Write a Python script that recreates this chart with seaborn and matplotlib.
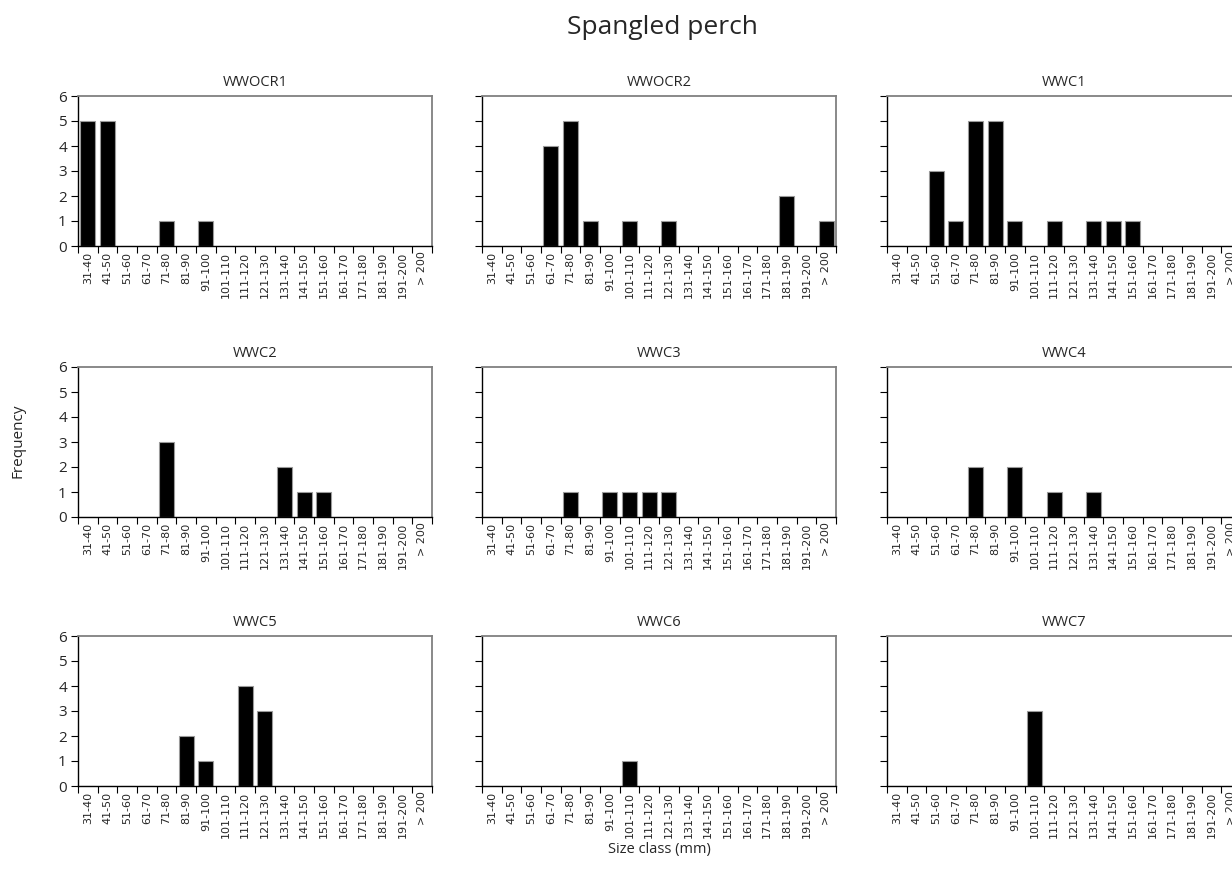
import matplotlib
matplotlib.use("Agg")
import matplotlib.pyplot as plt
from matplotlib.ticker import FixedLocator, NullFormatter
import pandas as pd
import seaborn as sns

size_classes = ["31-40", "41-50", "51-60", "61-70", "71-80", "81-90", "91-100",
                "101-110", "111-120", "121-130", "131-140", "141-150", "151-160",
                "161-170", "171-180", "181-190", "191-200", "> 200"]

sites = ["WWOCR1", "WWOCR2", "WWC1", "WWC2", "WWC3", "WWC4", "WWC5", "WWC6", "WWC7"]

wwocr1 = [5, 5, 0, 0, 1, 0, 1, 0, 0, 0, 0, 0, 0, 0, 0, 0, 0, 0]
wwocr2 = [0, 0, 0, 4, 5, 1, 0, 1, 0, 1, 0, 0, 0, 0, 0, 2, 0, 1]
wwc1 = [0, 0, 3, 1, 5, 5, 1, 0, 1, 0, 1, 1, 1, 0, 0, 0, 0, 0]
wwc2 = [0, 0, 0, 0, 3, 0, 0, 0, 0, 0, 2, 1, 1, 0, 0, 0, 0, 0]
wwc3 = [0, 0, 0, 0, 1, 0, 1, 1, 1, 1, 0, 0, 0, 0, 0, 0, 0, 0]
wwc4 = [0, 0, 0, 0, 2, 0, 2, 0, 1, 0, 1, 0, 0, 0, 0, 0, 0, 0]
wwc5 = [0, 0, 0, 0, 0, 2, 1, 0, 4, 3, 0, 0, 0, 0, 0, 0, 0, 0]
wwc6 = [0, 0, 0, 0, 0, 0, 0, 1, 0, 0, 0, 0, 0, 0, 0, 0, 0, 0]
wwc7 = [0, 0, 0, 0, 0, 0, 0, 3, 0, 0, 0, 0, 0, 0, 0, 0, 0, 0]

counts = [wwocr1, wwocr2, wwc1, wwc2, wwc3, wwc4, wwc5, wwc6, wwc7]

sns.set_style("white")
plt.rcParams["font.family"] = ["Open Sans", "DejaVu Sans"]

W, H = 1232, 883
fig = plt.figure(figsize=(W / 100, H / 100), dpi=100)

col_left = [78, 482, 887]
row_top = [96, 367, 636]
ax_w, ax_h = 354, 150

for i, (site, vals) in enumerate(zip(sites, counts)):
    r, c = divmod(i, 3)
    x0, y0 = col_left[c], row_top[r]
    ax = fig.add_axes([x0 / W, 1 - (y0 + ax_h) / H, ax_w / W, ax_h / H])
    df = pd.DataFrame({"Size class": size_classes, "Frequency": vals})
    sns.barplot(data=df, x="Size class", y="Frequency", ax=ax, color="black",
                saturation=1, width=0.75, edgecolor="#9a9a9a", linewidth=0.8)
    ax.set_xlim(-0.5, len(size_classes) - 0.5)
    ax.set_ylim(0, 6)
    ax.set_yticks(range(0, 7))
    # Excel-style: tick marks between categories, labels at centres
    ax.xaxis.set_major_locator(FixedLocator([k - 0.5 for k in range(len(size_classes) + 1)]))
    ax.xaxis.set_major_formatter(NullFormatter())
    ax.xaxis.set_minor_locator(FixedLocator(list(range(len(size_classes)))))
    ax.set_xticklabels(size_classes, minor=True, rotation=90, fontsize=8,
                       family="DejaVu Sans")
    ax.tick_params(axis="x", which="major", direction="out", length=5, width=0.8,
                   color="black", bottom=True)
    ax.tick_params(axis="x", which="minor", length=0, pad=4)
    ax.tick_params(axis="y", direction="out", length=5, width=0.8, color="black",
                   left=True, labelsize=11, pad=3)
    if c != 0:
        ax.set_yticklabels([])
    ax.set_xlabel("")
    ax.set_ylabel("")
    ax.set_title(site, fontsize=10.5, pad=7)
    for side in ["left", "bottom"]:
        ax.spines[side].set_color("black")
        ax.spines[side].set_linewidth(1.0)
    for side in ["top", "right"]:
        ax.spines[side].set_color("#808080")
        ax.spines[side].set_linewidth(1.3)

fig.text(662 / W, 1 - 28 / H, "Spangled perch", ha="center", va="center", fontsize=19)
fig.text(18 / W, 1 - 441 / H, "Frequency", ha="center", va="center", rotation=90, fontsize=11)
fig.text(659 / W, 1 - 850 / H, "Size class (mm)", ha="center", va="center", fontsize=10.5)

fig.savefig("out.png", dpi=100)
